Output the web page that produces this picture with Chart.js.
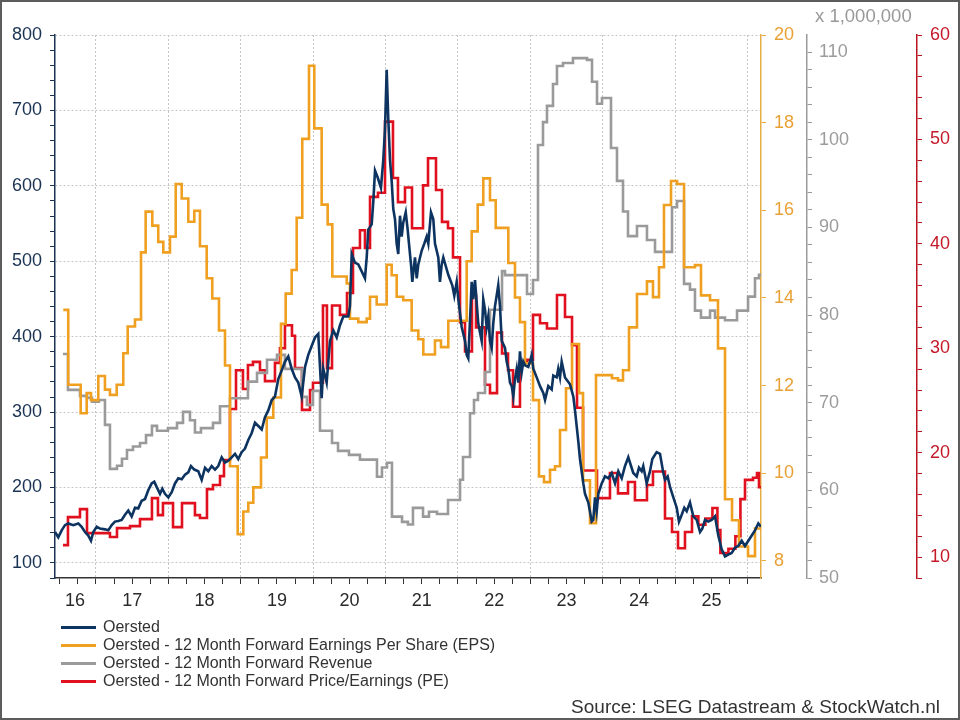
<!DOCTYPE html>
<html>
<head>
<meta charset="utf-8">
<title>Oersted - koers, winst, omzet en PE</title>
<script src="https://cdn.jsdelivr.net/npm/chart.js@4.4.1/dist/chart.umd.min.js"></script>
<style>
  html, body { margin: 0; padding: 0; background: #fff; }
  #wrap { position: relative; width: 960px; height: 720px; overflow: hidden; font-family: 'Liberation Sans', Arial, sans-serif; }
  #chart { position: absolute; left: 0; top: 0; }
  #frame { position: absolute; left: 0; top: 0; width: 960px; height: 720px; box-sizing: border-box; border: 2px solid #5c5c5c; pointer-events: none; }
  #unit { position: absolute; left: 815px; top: 5px; font-size: 18.5px; color: #999; }
  #legend { position: absolute; left: 61px; top: 618px; }
  .item { position: relative; height: 18px; line-height: 18px; font-size: 16px; color: #333; padding-left: 42px; white-space: nowrap; }
  .item i { position: absolute; left: 0; top: 8px; width: 35px; height: 3px; }
  #source { position: absolute; right: 20px; top: 696px; font-size: 19px; color: #333; }
</style>
</head>
<body>
<div id="wrap">
  <canvas id="chart" width="960" height="720"></canvas>
  <div id="unit">x 1,000,000</div>
  <div id="legend"></div>
  <div id="source">Source: LSEG Datastream &amp; StockWatch.nl</div>
  <div id="frame"></div>
</div>
<script>
// ============================================================================
// DATA (x = decimal year)
// ============================================================================

const seriesNames = [
    'Oersted',
    'Oersted - 12 Month Forward Earnings Per Share (EPS)',
    'Oersted - 12 Month Forward Revenue',
    'Oersted - 12 Month Forward Price/Earnings (PE)'
];
const seriesColors = ['#0d3461', '#f0a020', '#9a9a9a', '#e0101e'];

const xMin = 2016.434;
const xMax = 2026.185;
const yearLabels = ['16', '17', '18', '19', '20', '21', '22', '23', '24', '25'];
const yearLabelPos = [2016.71, 2017.5, 2018.5, 2019.5, 2020.5, 2021.5, 2022.5, 2023.5, 2024.5, 2025.5];

// Oersted share price (left axis)
const priceDates = [2016.434, 2016.479, 2016.526, 2016.572, 2016.617, 2016.686, 2016.756, 2016.802, 2016.848, 2016.894,
    2016.931, 2016.963, 2017.010, 2017.055, 2017.124, 2017.170, 2017.217, 2017.262, 2017.308, 2017.355,
    2017.401, 2017.446, 2017.493, 2017.539, 2017.584, 2017.631, 2017.677, 2017.722, 2017.769, 2017.805,
    2017.838, 2017.884, 2017.916, 2017.953, 2017.999, 2018.046, 2018.091, 2018.137, 2018.184, 2018.229,
    2018.275, 2018.312, 2018.358, 2018.413, 2018.460, 2018.506, 2018.551, 2018.598, 2018.644, 2018.689,
    2018.736, 2018.782, 2018.827, 2018.874, 2018.920, 2018.965, 2019.012, 2019.058, 2019.104, 2019.151,
    2019.196, 2019.242, 2019.289, 2019.334, 2019.380, 2019.427, 2019.472, 2019.518, 2019.565, 2019.610,
    2019.656, 2019.703, 2019.749, 2019.794, 2019.841, 2019.887, 2019.932, 2019.979, 2020.025, 2020.070,
    2020.117, 2020.139, 2020.186, 2020.232, 2020.278, 2020.325, 2020.370, 2020.416, 2020.485, 2020.508,
    2020.532, 2020.577, 2020.623, 2020.670, 2020.715, 2020.739, 2020.761, 2020.808, 2020.830, 2020.854,
    2020.891, 2020.936, 2020.968, 2020.992, 2021.015, 2021.037, 2021.061, 2021.084, 2021.106, 2021.130,
    2021.153, 2021.175, 2021.199, 2021.222, 2021.244, 2021.278, 2021.305, 2021.323, 2021.351, 2021.369,
    2021.406, 2021.430, 2021.452, 2021.499, 2021.535, 2021.568, 2021.590, 2021.627, 2021.659, 2021.682,
    2021.728, 2021.751, 2021.775, 2021.797, 2021.866, 2021.921, 2021.949, 2021.982, 2022.004, 2022.051,
    2022.097, 2022.120, 2022.142, 2022.166, 2022.189, 2022.211, 2022.235, 2022.280, 2022.327, 2022.349,
    2022.373, 2022.396, 2022.418, 2022.442, 2022.465, 2022.487, 2022.511, 2022.534, 2022.556, 2022.580,
    2022.604, 2022.649, 2022.673, 2022.695, 2022.718, 2022.742, 2022.764, 2022.787, 2022.811, 2022.833,
    2022.856, 2022.880, 2022.902, 2022.925, 2022.971, 2022.994, 2023.018, 2023.040, 2023.087, 2023.133,
    2023.178, 2023.202, 2023.247, 2023.294, 2023.316, 2023.363, 2023.385, 2023.409, 2023.432, 2023.478,
    2023.547, 2023.593, 2023.616, 2023.662, 2023.685, 2023.731, 2023.754, 2023.800, 2023.847, 2023.869,
    2023.892, 2023.916, 2023.938, 2023.985, 2024.030, 2024.076, 2024.123, 2024.169, 2024.214, 2024.261,
    2024.307, 2024.352, 2024.390, 2024.421, 2024.468, 2024.500, 2024.537, 2024.559, 2024.606, 2024.652,
    2024.684, 2024.744, 2024.790, 2024.836, 2024.859, 2024.896, 2024.928, 2024.974, 2025.021, 2025.052,
    2025.090, 2025.126, 2025.159, 2025.204, 2025.250, 2025.297, 2025.343, 2025.374, 2025.412, 2025.457,
    2025.504, 2025.550, 2025.595, 2025.642, 2025.688, 2025.733, 2025.780, 2025.826, 2025.871, 2025.918,
    2025.964, 2026.010, 2026.057, 2026.102, 2026.148, 2026.185];
const priceValues = [141.0, 134.0, 143.2, 150.1, 152.4, 150.1, 152.4, 147.9, 141.0, 136.3,
    129.4, 141.0, 147.9, 145.5, 144.5, 143.2, 150.1, 154.8, 155.6, 157.0,
    163.9, 169.5, 161.7, 173.2, 172.3, 182.4, 184.7, 196.3, 205.4, 207.8,
    200.8, 191.6, 198.5, 191.6, 187.0, 193.9, 205.4, 212.3, 211.0, 216.9,
    220.1, 228.5, 223.8, 221.6, 210.1, 226.2, 221.6, 228.5, 223.8, 228.5,
    240.0, 233.1, 235.4, 240.0, 244.7, 237.8, 246.9, 251.6, 263.1, 272.3,
    286.0, 281.5, 276.9, 293.1, 302.2, 316.0, 320.6, 343.7, 355.3, 366.8,
    373.7, 357.5, 346.0, 339.1, 320.6, 359.8, 375.9, 387.5, 399.0, 403.7,
    318.4, 357.5, 339.1, 394.4, 408.3, 399.0, 415.2, 426.7, 426.7, 440.5,
    509.6, 498.1, 495.8, 486.5, 477.4, 505.0, 541.9, 548.9, 578.8, 620.2,
    611.0, 597.3, 634.1, 675.6, 753.9, 689.4, 634.1, 606.4, 569.5, 555.7,
    523.5, 509.6, 560.4, 532.7, 551.1, 564.9, 541.9, 523.5, 495.8, 472.7,
    505.0, 477.4, 495.8, 514.2, 523.5, 532.7, 523.5, 564.9, 555.7, 523.5,
    505.0, 472.7, 495.8, 505.0, 482.0, 468.1, 454.3, 472.7, 449.7, 412.8,
    394.4, 375.9, 371.3, 422.1, 472.7, 449.7, 475.1, 417.4, 394.4, 449.7,
    435.9, 412.8, 426.7, 394.4, 385.2, 417.4, 440.5, 454.3, 468.1, 440.5,
    394.4, 385.2, 366.8, 357.5, 339.1, 334.4, 320.6, 343.7, 357.5, 339.1,
    380.6, 352.9, 366.8, 362.2, 359.9, 366.8, 375.9, 357.5, 346.0, 334.4,
    325.3, 316.0, 334.4, 329.9, 348.4, 346.0, 357.5, 346.0, 366.8, 346.0,
    336.8, 320.6, 302.2, 260.7, 237.8, 205.4, 191.6, 180.1, 154.8, 157.0,
    187.0, 168.6, 191.6, 205.4, 214.7, 212.3, 219.2, 205.4, 221.6, 212.3,
    228.5, 240.0, 228.5, 219.2, 214.7, 226.2, 221.6, 228.5, 205.4, 221.6,
    237.8, 246.9, 244.7, 219.2, 210.1, 214.7, 200.8, 187.0, 173.2, 154.8,
    163.9, 173.2, 168.6, 180.1, 161.7, 157.0, 141.0, 145.5, 157.0, 154.8,
    157.0, 161.7, 136.3, 117.9, 108.6, 111.0, 113.3, 120.2, 122.4, 129.4,
    122.4, 129.4, 136.3, 143.2, 152.4, 147.9];

// 12m forward EPS (first right axis), value holds from each date
const epsDates = [2016.548, 2016.617, 2016.789, 2016.872, 2016.931, 2017.032, 2017.124, 2017.193, 2017.286, 2017.377,
    2017.438, 2017.539, 2017.622, 2017.686, 2017.778, 2017.860, 2017.930, 2018.022, 2018.101, 2018.184,
    2018.275, 2018.358, 2018.436, 2018.529, 2018.606, 2018.699, 2018.782, 2018.851, 2018.957, 2019.035,
    2019.104, 2019.173, 2019.279, 2019.358, 2019.449, 2019.555, 2019.620, 2019.703, 2019.772, 2019.849,
    2019.942, 2020.015, 2020.117, 2020.200, 2020.264, 2020.463, 2020.508, 2020.623, 2020.739, 2020.785,
    2020.877, 2021.015, 2021.084, 2021.153, 2021.244, 2021.360, 2021.452, 2021.521, 2021.682, 2021.765,
    2021.866, 2022.120, 2022.189, 2022.272, 2022.349, 2022.442, 2022.521, 2022.695, 2022.787, 2022.856,
    2022.925, 2023.036, 2023.119, 2023.188, 2023.271, 2023.340, 2023.409, 2023.492, 2023.575, 2023.672,
    2023.727, 2023.823, 2023.906, 2024.127, 2024.210, 2024.279, 2024.362, 2024.472, 2024.610, 2024.693,
    2024.776, 2024.845, 2024.942, 2025.025, 2025.122, 2025.273, 2025.356, 2025.481, 2025.591, 2025.688,
    2025.785, 2025.881, 2026.006, 2026.102, 2026.185];
const epsValues = [13.73, 12.02, 11.37, 11.83, 11.67, 12.22, 11.91, 11.79, 12.02, 12.74,
    13.35, 13.51, 15.04, 15.97, 15.65, 15.28, 15.04, 15.40, 16.60, 16.27,
    15.74, 15.99, 15.18, 14.45, 13.99, 13.26, 12.46, 10.16, 8.61, 9.13,
    9.33, 9.68, 10.36, 11.27, 11.73, 13.41, 14.10, 14.64, 15.83, 17.63,
    19.30, 17.87, 16.13, 15.68, 14.49, 14.33, 13.53, 13.45, 13.53, 14.03,
    13.85, 14.76, 14.52, 14.03, 13.95, 13.26, 13.06, 12.71, 13.03, 12.88,
    13.48, 14.84, 15.52, 16.13, 16.73, 16.23, 15.60, 14.80, 14.01, 13.45,
    12.51, 11.67, 9.93, 9.80, 10.08, 10.16, 10.99, 11.94, 12.95, 11.83,
    9.84, 8.86, 12.24, 12.17, 12.12, 12.35, 13.33, 14.09, 14.38, 14.02,
    14.70, 16.12, 16.67, 16.60, 14.70, 14.75, 14.06, 13.95, 12.85, 9.41,
    8.93, 8.33, 8.11, 8.74, 8.74];

// 12m forward revenue, x 1,000,000 (second right axis)
const revDates = [2016.544, 2016.613, 2016.779, 2016.876, 2016.945, 2017.041, 2017.124, 2017.193, 2017.290, 2017.359,
    2017.428, 2017.511, 2017.608, 2017.691, 2017.773, 2017.843, 2017.994, 2018.119, 2018.202, 2018.298,
    2018.367, 2018.450, 2018.616, 2018.713, 2018.851, 2019.099, 2019.224, 2019.362, 2019.500, 2019.610,
    2019.845, 2019.914, 2019.997, 2020.094, 2020.260, 2020.343, 2020.494, 2020.646, 2020.881, 2020.950,
    2021.019, 2021.088, 2021.227, 2021.309, 2021.378, 2021.517, 2021.599, 2021.710, 2021.862, 2022.028,
    2022.069, 2022.166, 2022.221, 2022.276, 2022.373, 2022.442, 2022.608, 2022.649, 2022.953, 2023.036,
    2023.105, 2023.174, 2023.229, 2023.312, 2023.367, 2023.450, 2023.588, 2023.782, 2023.851, 2023.920,
    2023.989, 2024.113, 2024.196, 2024.279, 2024.348, 2024.472, 2024.610, 2024.721, 2024.956, 2025.025,
    2025.122, 2025.204, 2025.273, 2025.356, 2025.481, 2025.550, 2025.688, 2025.854, 2026.006, 2026.102,
    2026.157, 2026.185];
const revValues = [75.56, 71.46, 70.78, 70.55, 70.1, 70.3, 67.47, 62.45, 62.8, 63.6,
    64.6, 65.0, 65.4, 66.3, 67.35, 66.8, 67.1, 67.7, 68.95, 68.0,
    66.6, 67.1, 67.7, 69.6, 70.5, 72.4, 73.4, 74.9, 75.45, 73.85,
    70.66, 69.75, 71.35, 66.8, 65.4, 64.5, 64.05, 63.5, 61.55, 62.6,
    63.15, 57.0, 56.4, 56.1, 58.0, 57.0, 57.55, 57.3, 58.9, 61.2,
    63.8, 68.8, 70.3, 71.1, 73.5, 80.6, 85.0, 84.55, 82.4, 84.0,
    99.4, 102.0, 103.85, 106.35, 108.4, 108.75, 109.3, 109.1, 106.6, 104.1,
    104.75, 99.05, 95.3, 91.8, 89.0, 90.15, 88.55, 87.2, 92.3, 93.0,
    83.55, 82.9, 80.5, 79.7, 80.5, 79.7, 79.4, 80.5, 82.1, 84.2,
    84.6, 84.6];

// 12m forward PE (third right axis)
const peDates = [2016.544, 2016.613, 2016.779, 2016.876, 2017.193, 2017.290, 2017.470, 2017.608, 2017.773, 2017.856,
    2017.925, 2018.064, 2018.188, 2018.367, 2018.436, 2018.533, 2018.616, 2018.713, 2018.768, 2018.851,
    2018.934, 2019.030, 2019.099, 2019.168, 2019.265, 2019.334, 2019.472, 2019.541, 2019.610, 2019.707,
    2019.749, 2019.845, 2019.956, 2019.997, 2020.135, 2020.190, 2020.260, 2020.370, 2020.467, 2020.550,
    2020.646, 2020.715, 2020.785, 2020.895, 2020.992, 2021.102, 2021.171, 2021.268, 2021.365, 2021.517,
    2021.586, 2021.696, 2021.779, 2021.862, 2021.931, 2022.028, 2022.097, 2022.193, 2022.249, 2022.373,
    2022.442, 2022.539, 2022.608, 2022.691, 2022.760, 2022.856, 2022.953, 2023.036, 2023.133, 2023.229,
    2023.367, 2023.478, 2023.575, 2023.644, 2023.727, 2023.920, 2024.099, 2024.210, 2024.348, 2024.444,
    2024.610, 2024.693, 2024.859, 2024.956, 2025.039, 2025.135, 2025.232, 2025.320, 2025.417, 2025.514,
    2025.583, 2025.624, 2025.735, 2025.831, 2025.901, 2025.964, 2026.075, 2026.130, 2026.157, 2026.185];
const peValues = [11.15, 13.83, 14.6, 12.3, 11.92, 12.78, 12.97, 13.64, 15.65, 14.02,
    15.17, 12.87, 15.17, 14.02, 13.74, 16.51, 16.9, 17.76, 19.3, 24.18,
    27.9, 26.1, 28.4, 28.7, 27.9, 26.85, 28.6, 30.0, 32.2, 31.2,
    28.1, 24.1, 26.0, 26.7, 34.1, 28.1, 34.1, 33.2, 35.3, 39.6,
    41.3, 39.6, 44.5, 44.9, 51.7, 46.3, 44.0, 45.4, 41.5, 45.6,
    48.2, 45.15, 42.1, 41.5, 38.7, 32.5, 29.7, 35.1, 32.0, 26.5,
    25.7, 31.5, 29.5, 27.9, 24.4, 28.7, 28.9, 33.2, 32.4, 31.9,
    35.1, 33.0, 30.3, 24.3, 18.3, 15.65, 18.05, 16.1, 17.2, 15.45,
    16.9, 18.2, 13.7, 12.4, 10.85, 12.4, 13.9, 13.1, 13.7, 14.7,
    12.6, 10.4, 10.8, 12.0, 15.55, 17.4, 17.6, 18.05, 16.7, 16.7];

// ============================================================================
// HELPERS
// ============================================================================

const FONT = { family: "'Liberation Sans', Arial, sans-serif", size: 18 };
const GRID = '#c6c6c6';

const toPoints = (xs, ys) => xs.map((x, i) => ({ x: x, y: ys[i] }));

function stepTicks(from, to, step) {
    const out = [];
    for (let v = from; v <= to + 1e-9; v += step) out.push({ value: Math.round(v * 1000) / 1000 });
    return out;
}

function buildXTicks(scale) {
    const ticks = stepTicks(2016.5, 2026, 0.25).map(t => ({ value: t.value, lab: '', minor: true }));
    yearLabelPos.forEach((p, i) => ticks.push({ value: p, lab: yearLabels[i], minor: false }));
    ticks.sort((a, b) => a.value - b.value);
    scale.ticks = ticks;
}

function rightAxis(min, max, tickFrom, step, labelEvery, width, color, lineColor, pad) {
    return {
        type: 'linear',
        position: 'right',
        min: min,
        max: max,
        afterBuildTicks: s => { s.ticks = stepTicks(tickFrom, max, step); },
        afterFit: s => { s.width = width; },
        ticks: {
            color: color, font: FONT, padding: pad, autoSkip: false,
            callback: v => (Math.abs(v % labelEvery) < 1e-6 ? String(v) : '')
        },
        grid: { drawOnChartArea: false, tickColor: lineColor, tickLength: 5 },
        border: { display: true, color: lineColor, width: 1.5 }
    };
}

// ============================================================================
// CHART
// ============================================================================

function baseDataset(i, data, axis, stepped) {
    return {
        label: seriesNames[i],
        data: data,
        yAxisID: axis,
        borderColor: seriesColors[i],
        backgroundColor: seriesColors[i],
        borderWidth: 2.6,
        pointRadius: 0,
        tension: 0,
        stepped: stepped,
        fill: false
    };
}

new Chart(document.getElementById('chart').getContext('2d'), {
    type: 'line',
    data: {
        datasets: [
            baseDataset(0, toPoints(priceDates, priceValues), 'y', false),
            baseDataset(1, toPoints(epsDates, epsValues), 'yEps', true),
            baseDataset(2, toPoints(revDates, revValues), 'yRev', true),
            baseDataset(3, toPoints(peDates, peValues), 'yPe', true)
        ]
    },
    options: {
        responsive: false,
        animation: false,
        layout: { padding: { top: 35, right: 3, bottom: 100, left: 0 } },
        plugins: { legend: { display: false }, tooltip: { enabled: false } },
        scales: {
            x: {
                type: 'linear',
                position: 'bottom',
                min: xMin,
                max: xMax,
                afterBuildTicks: buildXTicks,
                afterFit: s => { s.height = 42; },
                ticks: {
                    autoSkip: false, maxRotation: 0, minRotation: 0, padding: 6,
                    color: '#2a2a2a', font: FONT,
                    callback: (v, i, ticks) => ticks[i].lab
                },
                grid: {
                    color: c => (c.tick && Number.isInteger(c.tick.value) ? GRID : 'transparent'),
                    tickColor: c => (c.tick && c.tick.minor === false ? 'transparent' : '#333'),
                    tickLength: 6
                },
                border: { color: '#333', width: 1.5, dash: [2, 2] }
            },
            y: {
                type: 'linear',
                position: 'left',
                min: 80,
                max: 800,
                afterBuildTicks: s => { s.ticks = stepTicks(80, 800, 20); },
                afterFit: s => { s.width = 55; },
                ticks: {
                    color: '#1a3352', font: FONT, padding: 8, autoSkip: false,
                    callback: v => (v % 100 === 0 ? String(v) : '')
                },
                grid: {
                    color: c => (c.tick && c.tick.value % 100 === 0 ? GRID : 'transparent'),
                    tickColor: '#1a3352',
                    tickLength: 5
                },
                border: { color: '#1a3352', width: 1.5, dash: [2, 2] }
            },
            yEps: rightAxis(7.612, 20, 8, 2, 2, 46, '#e9a035', '#e6ad45', 8),
            yRev: rightAxis(50, 111.94, 50, 2, 10, 110, '#9c9c9c', '#9a9a9a', 7),
            yPe: rightAxis(8, 60, 8, 2, 10, 40, '#c41a2a', '#b5141f', 8)
        }
    }
});

// ============================================================================
// LEGEND
// ============================================================================

const legend = document.getElementById('legend');
seriesNames.forEach((name, i) => {
    const row = document.createElement('div');
    row.className = 'item';
    row.innerHTML = `<i style="background:${seriesColors[i]}"></i>${name}`;
    legend.appendChild(row);
});
</script>
</body>
</html>
